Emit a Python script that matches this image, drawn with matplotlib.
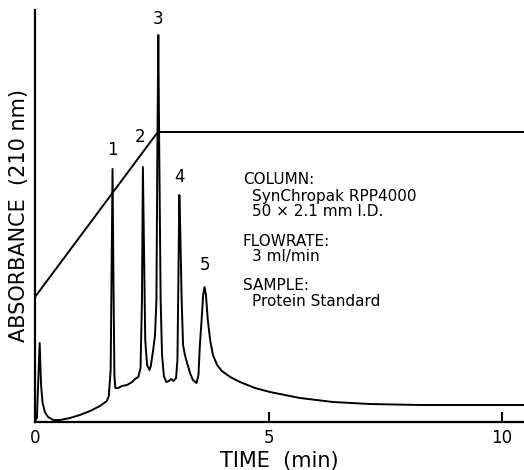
import matplotlib
matplotlib.use("Agg")
import matplotlib.pyplot as plt

# chromatogram trace: time (min), absorbance (arbitrary units)
time_min = [0.00, 0.04, 0.10, 0.13, 0.16, 0.21, 0.28, 0.39, 0.54, 0.75, 0.96,
            1.18, 1.39, 1.54, 1.58, 1.62, 1.66, 1.68, 1.70, 1.72, 1.78, 1.86,
            1.97, 2.08, 2.14, 2.21, 2.26, 2.29, 2.31, 2.34, 2.36, 2.40, 2.45,
            2.48, 2.53, 2.57, 2.60, 2.62, 2.64, 2.66, 2.69, 2.72, 2.76, 2.81,
            2.87, 2.91, 2.97, 3.02, 3.05, 3.07, 3.09, 3.11, 3.14, 3.17, 3.21,
            3.25, 3.32, 3.38, 3.46, 3.50, 3.53, 3.57, 3.60, 3.63, 3.66, 3.70,
            3.75, 3.81, 3.90, 4.00, 4.18, 4.39, 4.71, 5.03, 5.67, 6.38, 7.17,
            8.24, 10.47]
absorbance = [1, 4, 79, 37, 20, 10, 5, 2, 2, 4, 7,
              11, 16, 21, 26, 52, 253, 142, 47, 34, 34, 36,
              37, 40, 43, 45, 54, 122, 255, 152, 82, 57, 52,
              56, 72, 87, 122, 272, 387, 272, 122, 67, 46, 40,
              41, 43, 41, 44, 62, 142, 227, 192, 122, 77, 67,
              60, 49, 42, 39, 47, 77, 104, 127, 135, 127, 102,
              82, 67, 57, 51, 45, 40, 34, 30, 24, 20, 18,
              17, 17]

# solvent gradient profile
gradient_t = [0.0, 2.63, 10.47]
gradient_y = [125, 290, 290]

# peak numbers
peak_labels = ["1", "2", "3", "4", "5"]
peak_t = [1.66, 2.25, 2.63, 3.10, 3.64]
peak_y = [263, 276, 394, 236, 148]

info_lines = [("COLUMN:", 0), ("SynChropak RPP4000", 1), ("50 × 2.1 mm I.D.", 1),
              ("FLOWRATE:", 0), ("3 ml/min", 1),
              ("SAMPLE:", 0), ("Protein Standard", 1)]
info_y = [242, 226, 211, 181, 165, 136, 120]

fig = plt.figure(figsize=(5.24, 4.70), dpi=100)
ax = fig.add_axes([35 / 524, 48 / 470, 489 / 524, 412 / 470])

ax.plot(time_min, absorbance, color="black", lw=1.4)
ax.plot(gradient_t, gradient_y, color="black", lw=1.4)

for lab, t, y in zip(peak_labels, peak_t, peak_y):
    ax.text(t, y, lab, ha="center", va="bottom", fontsize=12)

for (txt, indent), y in zip(info_lines, info_y):
    ax.text(4.45 + 0.2 * indent, y, txt, ha="left", va="center", fontsize=11)

ax.set_xlim(0, 10.47)
ax.set_ylim(0, 412)
ax.spines["top"].set_visible(False)
ax.spines["right"].set_visible(False)
ax.spines["left"].set_linewidth(1.6)
ax.spines["bottom"].set_linewidth(1.6)
ax.set_xticks([0, 5, 10])
ax.set_xticklabels(["0", "5", "10"])
ax.tick_params(axis="x", direction="in", length=7, width=1.4, pad=5, labelsize=12)
ax.set_yticks([])
ax.set_xlabel("TIME  (min)", fontsize=15, labelpad=3)
ax.set_ylabel("ABSORBANCE  (210 nm)", fontsize=15, labelpad=4)

fig.savefig("out.png", dpi=100)
